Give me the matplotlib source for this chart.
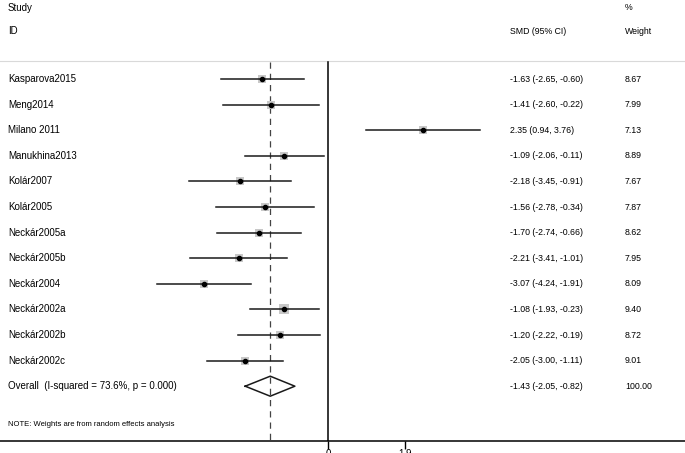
import numpy as np
import matplotlib
matplotlib.use("Agg")
import matplotlib.pyplot as plt
import matplotlib.transforms as mtransforms

plt.rcParams['font.family'] = ['Liberation Sans', 'DejaVu Sans']

# Study data (SMD, 95% CI, weight)
studies = ['Kasparova2015', 'Meng2014', 'Milano 2011', 'Manukhina2013', 'Kolár2007',
           'Kolár2005', 'Neckár2005a', 'Neckár2005b', 'Neckár2004', 'Neckár2002a',
           'Neckár2002b', 'Neckár2002c']
smd = [-1.63, -1.41, 2.35, -1.09, -2.18, -1.56, -1.70, -2.21, -3.07, -1.08, -1.20, -2.05]
lower = [-2.65, -2.60, 0.94, -2.06, -3.45, -2.78, -2.74, -3.41, -4.24, -1.93, -2.22, -3.00]
upper = [-0.60, -0.22, 3.76, -0.11, -0.91, -0.34, -0.66, -1.01, -1.91, -0.23, -0.19, -1.11]
weights = [8.67, 7.99, 7.13, 8.89, 7.67, 7.87, 8.62, 7.95, 8.09, 9.40, 8.72, 9.01]

overall_label = 'Overall  (I-squared = 73.6%, p = 0.000)'
overall = -1.43
overall_lo = -2.05
overall_hi = -0.82
overall_weight = 100.00

tick_vals = [0, 1.9]
tick_labels = ['0', '1.9']

W, H = 685, 453
fig = plt.figure(figsize=(W / 100, H / 100), dpi=100)
axis_y = 441
ax = fig.add_axes([0, (H - axis_y) / H, 1, axis_y / H])

px_per_unit = 40.4
x0 = 328
ax.set_xlim(-x0 / px_per_unit, (W - x0) / px_per_unit)
ax.set_ylim(axis_y, 0)

for s in ['left', 'right', 'top']:
    ax.spines[s].set_visible(False)
ax.spines['bottom'].set_linewidth(1.1)
ax.set_yticks([])
ax.set_xticks(tick_vals)
ax.set_xticklabels(tick_labels, fontsize=7)
ax.tick_params(axis='x', direction='out', length=5.5, width=1.0, pad=0.5)

txt = mtransforms.blended_transform_factory(fig.transFigure, ax.transData)
fs = 7

# header
ax.text(8 / W, 8, 'Study', transform=txt, fontsize=fs, va='center')
ax.text(8 / W, 31, 'ID', transform=txt, fontsize=fs, va='center')
ax.text(510 / W, 31, 'SMD (95% CI)', transform=txt, fontsize=6.3, va='center')
ax.text(625 / W, 8, '%', transform=txt, fontsize=6.3, va='center')
ax.text(625 / W, 31, 'Weight', transform=txt, fontsize=6.3, va='center')
ax.axhline(61, color='#d9d9d9', lw=0.8)

row0, step = 79, 25.6
ys = row0 + step * np.arange(len(studies))

# reference lines
ax.plot([0, 0], [62, axis_y], color='black', lw=1.1)
ax.plot([overall, overall], [62, axis_y], color='#444444', lw=0.9, ls=(0, (5, 4)))

for i, name in enumerate(studies):
    y = ys[i]
    ax.plot([lower[i], upper[i]], [y, y], color='#1a1a1a', lw=1.1, zorder=3)
    ax.scatter([smd[i]], [y], marker='s', s=weights[i] * 4.5, color='#c8c8c8', zorder=2, linewidths=0)
    ax.scatter([smd[i]], [y], marker='o', s=9, color='black', zorder=4)
    ax.text(8 / W, y, name, transform=txt, fontsize=fs, va='center')
    ax.text(510 / W, y, f'{smd[i]:.2f} ({lower[i]:.2f}, {upper[i]:.2f})', transform=txt,
            fontsize=6.3, va='center')
    ax.text(625 / W, y, f'{weights[i]:.2f}', transform=txt, fontsize=6.3, va='center')

yo = row0 + step * len(studies)
dx = [overall_lo, overall, overall_hi, overall, overall_lo]
dy = [yo, yo - 10, yo, yo + 10, yo]
ax.plot(dx, dy, color='#1a1a1a', lw=1.1, zorder=3)
ax.text(8 / W, yo, overall_label, transform=txt, fontsize=fs, va='center')
ax.text(510 / W, yo, f'{overall:.2f} ({overall_lo:.2f}, {overall_hi:.2f})', transform=txt,
        fontsize=6.3, va='center')
ax.text(625 / W, yo, f'{overall_weight:.2f}', transform=txt, fontsize=6.3, va='center')

ax.text(8 / W, 424, 'NOTE: Weights are from random effects analysis', transform=txt,
        fontsize=5.5, va='center')

fig.savefig('out.png', dpi=100)
